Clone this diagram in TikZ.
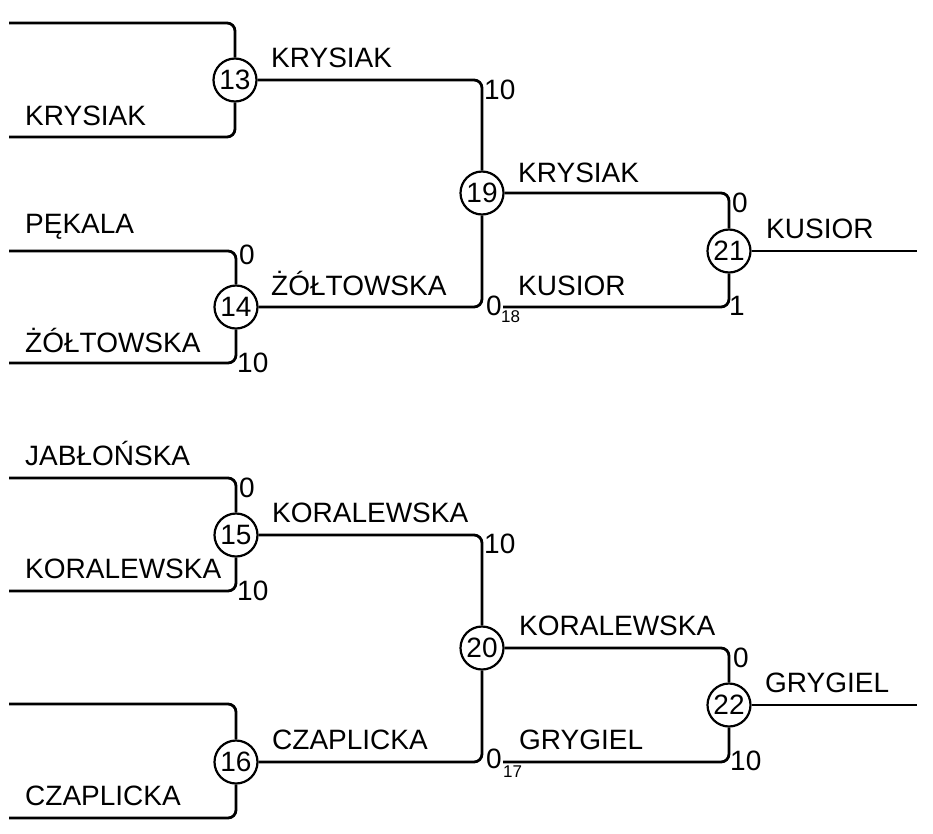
\documentclass[tikz,border=0pt]{standalone}
\usepackage{fontspec}
\setmainfont{Liberation Sans}
\begin{document}
\begin{tikzpicture}[x=1pt,y=-1pt,
  bline/.style={line width=2.8pt,rounded corners=8pt},
  matchnode/.style={circle,draw,line width=2.2pt,fill=white,minimum size=43pt,inner sep=0pt,font=\fontsize{28}{28}\selectfont},
  playerlabel/.style={anchor=base west,inner sep=0pt,font=\fontsize{28}{28}\selectfont},
  scorelabel/.style={anchor=base west,inner sep=0pt,font=\fontsize{28}{28}\selectfont},
  srclabel/.style={anchor=base west,inner sep=0pt,font=\fontsize{17}{17}\selectfont}]
\useasboundingbox (0,0) rectangle (933,833);
% match nodes
\node[matchnode] (n13) at (235,80) {13};
\node[matchnode] (n14) at (236,307) {14};
\node[matchnode] (n19) at (482,193) {19};
\node[matchnode] (n21) at (729,251) {21};
\node[matchnode] (n15) at (236,535) {15};
\node[matchnode] (n16) at (236,762) {16};
\node[matchnode] (n20) at (482,648) {20};
\node[matchnode] (n22) at (729,705) {22};
% free ends
\coordinate (e13t) at (9,23);
\coordinate (e13b) at (9,137);
\coordinate (e14t) at (9,251);
\coordinate (e14b) at (9,363);
\coordinate (e21b) at (503,307);
\coordinate (o21) at (917,251);
\coordinate (e15t) at (9,478);
\coordinate (e15b) at (9,591);
\coordinate (e16t) at (9,704);
\coordinate (e16b) at (9,818);
\coordinate (e22b) at (503,762);
\coordinate (o22) at (917,705);
% connectors
\draw[bline] (e13t) -| (n13);
\draw[bline] (e13b) -| (n13);
\draw[bline] (e14t) -| (n14);
\draw[bline] (e14b) -| (n14);
\draw[bline] (n13) -| (n19);
\draw[bline] (n14) -| (n19);
\draw[bline] (n19) -| (n21);
\draw[bline] (e21b) -| (n21);
\draw[bline] (n21) -- (o21);
\draw[bline] (e15t) -| (n15);
\draw[bline] (e15b) -| (n15);
\draw[bline] (e16t) -| (n16);
\draw[bline] (e16b) -| (n16);
\draw[bline] (n15) -| (n20);
\draw[bline] (n16) -| (n20);
\draw[bline] (n20) -| (n22);
\draw[bline] (e22b) -| (n22);
\draw[bline] (n22) -- (o22);
% names
\node[playerlabel] (t1) at (25,125) {KRYSIAK};
\node[playerlabel] (t2) at (25,233) {PĘKALA};
\node[playerlabel] (t3) at (25,352) {ŻÓŁTOWSKA};
\node[playerlabel] (t4) at (271,67) {KRYSIAK};
\node[playerlabel] (t5) at (271,295) {ŻÓŁTOWSKA};
\node[playerlabel] (t6) at (518,182) {KRYSIAK};
\node[playerlabel] (t7) at (518,295) {KUSIOR};
\node[playerlabel] (t8) at (766,238) {KUSIOR};
\node[playerlabel] (t9) at (25,465) {JABŁOŃSKA};
\node[playerlabel] (t10) at (25,578) {KORALEWSKA};
\node[playerlabel] (t11) at (25,805) {CZAPLICKA};
\node[playerlabel] (t12) at (272,522) {KORALEWSKA};
\node[playerlabel] (t13) at (272,749) {CZAPLICKA};
\node[playerlabel] (t14) at (519,635) {KORALEWSKA};
\node[playerlabel] (t15) at (519,749) {GRYGIEL};
\node[playerlabel] (t16) at (765,692) {GRYGIEL};
% scores
\node[scorelabel] (s1) at (484,99) {10};
\node[scorelabel] (s2) at (239,264) {0};
\node[scorelabel] (s3) at (237,372) {10};
\node[scorelabel] (s4) at (486,315) {0};
\node[srclabel] (r18) at (501,322) {18};
\node[scorelabel] (s5) at (732,212) {0};
\node[scorelabel] (s6) at (729,315) {1};
\node[scorelabel] (s7) at (239,497) {0};
\node[scorelabel] (s8) at (237,600) {10};
\node[scorelabel] (s9) at (484,553) {10};
\node[scorelabel] (s10) at (486,768) {0};
\node[srclabel] (r17) at (503,777) {17};
\node[scorelabel] (s11) at (733,667) {0};
\node[scorelabel] (s12) at (730,770) {10};
\end{tikzpicture}
\end{document}
